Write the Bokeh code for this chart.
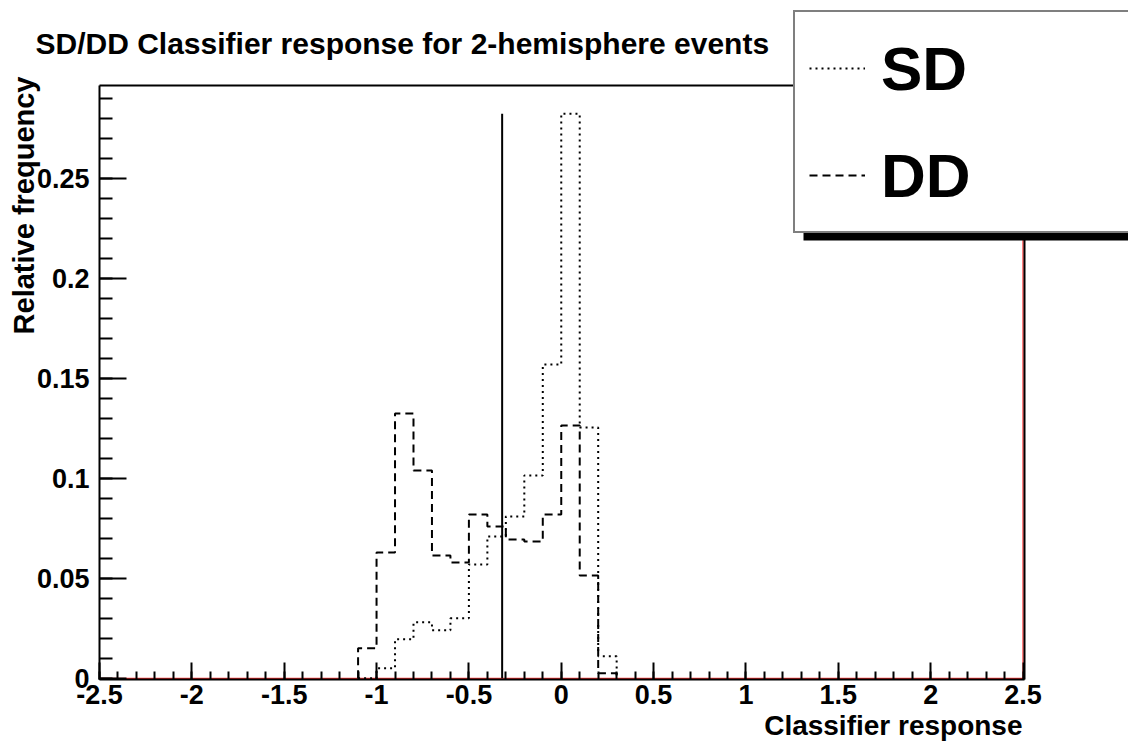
import numpy as np
from bokeh.plotting import figure
from bokeh.models import (Range1d, LinearAxis, FixedTicker, Label, Legend, LegendItem,
                          BoxAnnotation)
from bokeh.embed import file_html
from bokeh.resources import INLINE

# ---------------- data ----------------
title_text = "SD/DD Classifier response for 2-hemisphere events"
x_title = "Classifier response"
y_title = "Relative frequency"

bin_width = 0.1
bin_lo = [-1.1, -1.0, -0.9, -0.8, -0.7, -0.6, -0.5, -0.4, -0.3, -0.2, -0.1, 0.0, 0.1, 0.2]
sd_values = [0.0, 0.005, 0.0195, 0.028, 0.024, 0.030, 0.057, 0.071, 0.081, 0.1015,
             0.157, 0.2826, 0.1255, 0.011]
dd_values = [0.015, 0.063, 0.1325, 0.104, 0.0615, 0.058, 0.082, 0.076, 0.0695, 0.0685,
             0.082, 0.1265, 0.0515, 0.0025]
cut_value = -0.32

x_min, x_max = -2.5, 2.5
red_overflow = 0.2966   # overflow edge of the (empty) red histogram reaches the frame top

x_major = [-2.5, -2.0, -1.5, -1.0, -0.5, 0.0, 0.5, 1.0, 1.5, 2.0, 2.5]
x_major_labels = ["-2.5", "-2", "-1.5", "-1", "-0.5", "0", "0.5", "1", "1.5", "2", "2.5"]
y_major = [0.0, 0.05, 0.10, 0.15, 0.20, 0.25]
y_major_labels = ["0", "0.05", "0.1", "0.15", "0.2", "0.25"]

# ---------------- geometry (pixels of the frame inside the page) ----------------
W, H = 1128, 742
FL, FR, FT, FB = 99, 1024, 85, 679
KX = 184.7          # px per x unit
KY = 1998.0         # px per y unit
PY0 = 677.8         # pixel row of y = 0
FONT = "Liberation Sans"

def X(px):
    return x_min + (px - FL) / KX

def Y(py):
    return (PY0 - py) / KY

def step(lo, vals, w):
    xs, ys = [lo[0]], [0.0]
    for l, v in zip(lo, vals):
        xs += [l, l + w]
        ys += [v, v]
    xs.append(lo[-1] + w)
    ys.append(0.0)
    return xs, ys

p = figure(width=W, height=H, output_backend="svg", toolbar_location=None,
           x_range=Range1d(X(0), X(W)), y_range=Range1d(Y(H), Y(0)),
           min_border_left=0, min_border_right=0, min_border_top=0,
           min_border_bottom=0, x_axis_type=None, y_axis_type=None)
p.grid.visible = False
p.outline_line_color = None
p.background_fill_color = "white"
p.border_fill_color = "white"

def style_axis(ax, maj_in, min_in, labels=True):
    ax.axis_line_color = "black"
    ax.axis_line_width = 2
    ax.major_tick_in = maj_in
    ax.major_tick_out = 0
    ax.minor_tick_in = min_in
    ax.minor_tick_out = 0
    ax.major_tick_line_color = "black"
    ax.minor_tick_line_color = "black"
    ax.major_tick_line_width = 2
    ax.minor_tick_line_width = 2
    ax.major_label_text_font = FONT
    ax.major_label_text_font_style = "bold"
    ax.major_label_text_font_size = "27px" if labels else "0px"
    ax.major_label_text_color = "black"

x_minor = [round(-2.5 + 0.1 * i, 2) for i in range(51)]
y_minor = [round(0.01 * i, 2) for i in range(30)]

xb = LinearAxis(ticker=FixedTicker(ticks=x_major, minor_ticks=x_minor),
                fixed_location=Y(FB), bounds=(X(FL), X(FR)))
style_axis(xb, 17, 8)
xb.major_label_overrides = {v: s for v, s in zip(x_major, x_major_labels)}
xb.major_label_standoff = 5
p.add_layout(xb, "below")

yl = LinearAxis(ticker=FixedTicker(ticks=y_major, minor_ticks=y_minor),
                fixed_location=X(FL), bounds=(Y(FB), Y(FT)))
style_axis(yl, 27, 13)
yl.major_label_overrides = {v: s for v, s in zip(y_major, y_major_labels)}
yl.major_label_standoff = 10
p.add_layout(yl, "left")

xt = LinearAxis(ticker=FixedTicker(ticks=[], minor_ticks=[]),
                fixed_location=Y(FT), bounds=(X(FL), X(FR)))
style_axis(xt, 0, 0, labels=False)
p.add_layout(xt, "above")
yr = LinearAxis(ticker=FixedTicker(ticks=[], minor_ticks=[]),
                fixed_location=X(FR), bounds=(Y(FB), Y(FT)))
style_axis(yr, 0, 0, labels=False)
p.add_layout(yr, "right")

# red empty histogram
red_x = [x_min, x_max, x_max]
red_y = [0.0, 0.0, red_overflow]
p.line(red_x, red_y, line_color="red", line_width=1)

# histograms
sx, sy = step(bin_lo, sd_values, bin_width)
dx, dy = step(bin_lo, dd_values, bin_width)
sd_r = p.line(sx, sy, line_color="black", line_width=2, line_dash="2 4")
dd_r = p.line(dx, dy, line_color="black", line_width=2, line_dash="8 5")

# cut line
p.segment(x0=[cut_value], y0=[0.0], x1=[cut_value], y1=[max(sd_values)],
          line_color="black", line_width=2)

# legend shadow + legend
shadow = BoxAnnotation(left=X(803), right=X(1300), bottom=Y(240), top=Y(226),
                       fill_color="black", fill_alpha=1.0, line_color=None)
p.add_layout(shadow)

legend = Legend(items=[LegendItem(label="SD", renderers=[sd_r]),
                       LegendItem(label="DD", renderers=[dd_r])],
                location=(793, H - 233), orientation="vertical",
                glyph_width=56, glyph_height=84, label_height=84, label_width=300,
                label_standoff=16, padding=14, spacing=23, margin=0,
                border_line_color="black", border_line_width=2,
                background_fill_color="white", background_fill_alpha=1.0,
                label_text_font=FONT, label_text_font_style="bold",
                label_text_font_size="62px", label_text_color="black")
p.add_layout(legend, "center")

# texts
p.add_layout(Label(x=X(35), y=Y(43), text=title_text, text_font=FONT,
                   text_font_style="bold", text_font_size="30px", text_align="left",
                   text_baseline="alphabetic", text_color="black"))
p.add_layout(Label(x=X(1022), y=Y(725), text=x_title, text_font=FONT,
                   text_font_style="bold", text_font_size="28px", text_align="right",
                   text_baseline="alphabetic", text_color="black"))
p.add_layout(Label(x=X(23), y=Y(76), text=y_title, text_font=FONT, angle=np.pi / 2,
                   text_font_style="bold", text_font_size="29px", text_align="right",
                   text_baseline="alphabetic", text_color="black"))

open("out.html", "w").write(file_html(p, INLINE))
